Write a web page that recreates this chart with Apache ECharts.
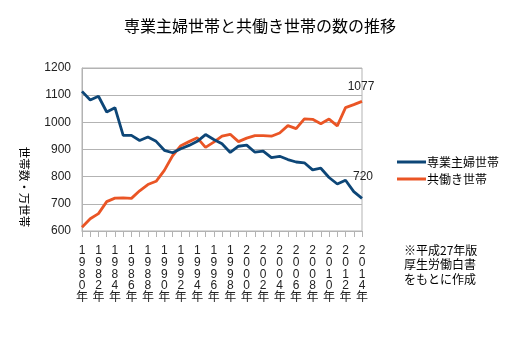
<!DOCTYPE html>
<html>
<head>
<meta charset="utf-8">
<script src="https://cdn.jsdelivr.net/npm/echarts@6/dist/echarts.min.js"></script>
<style>
  html, body { margin: 0; padding: 0; background: #fff; }
  #chart { width: 520px; height: 339px; }
</style>
</head>
<body>
<div id="chart"></div>
<script>
// 1980年〜2014年の世帯数(万世帯)
var years = [];
for (var y = 1980; y <= 2014; y++) years.push(String(y));

var housewifeName = '専業主婦世帯';
var housewife = [1114, 1082, 1096, 1038, 1054, 952, 952, 933, 946, 930,
                 897, 888, 903, 915, 930, 955, 937, 921, 889, 912,
                 916, 890, 894, 870, 875, 863, 854, 851, 825, 831,
                 797, 773, 787, 745, 720];

var dualName = '共働き世帯';
var dual = [614, 645, 664, 708, 721, 722, 720, 748, 771, 783,
            823, 877, 914, 929, 943, 908, 927, 949, 956, 929,
            942, 951, 951, 949, 961, 988, 977, 1013, 1011, 995,
            1012, 987, 1054, 1065, 1077];

var yTicks = [600, 700, 800, 900, 1000, 1100, 1200];

var titleText = '専業主婦世帯と共働き世帯の数の推移';
var axisNameText = '世帯数・万世帯';
var sourceNote = '※平成27年版\n厚生労働白書\nをもとに作成';

var FONT = '"Liberation Sans", "Noto Sans CJK JP", sans-serif';
var JP = '"Noto Sans CJK JP", sans-serif';
var BLUE = '#0d4677';
var RED = '#ea5525';

// label only the final point of each series
function withEndLabel(values, dist, dx) {
  return values.map(function (v, i) {
    if (i !== values.length - 1) return v;
    return {
      value: v,
      label: {
        show: true, position: 'top', distance: dist, offset: [dx, 0],
        color: '#222', fontSize: 12, fontFamily: FONT,
        formatter: '{c}'
      }
    };
  });
}

var chart = echarts.init(document.getElementById('chart'), null, { renderer: 'canvas' });

chart.setOption({
  backgroundColor: '#ffffff',
  animation: false,
  title: {
    text: titleText,
    left: 'center',
    top: 13,
    textStyle: { fontFamily: JP, fontSize: 16, fontWeight: 'normal', color: '#000' }
  },
  legend: {
    orient: 'vertical',
    left: 392,
    top: 151,
    itemWidth: 29,
    itemHeight: 3,
    itemGap: 5,
    icon: 'rect',
    textStyle: { fontFamily: JP, fontSize: 12, color: '#000', padding: [0, 0, 0, -4] },
    data: [housewifeName, dualName]
  },
  grid: {
    left: 82, top: 68, width: 280, height: 163,
    show: true, borderColor: '#b3b3b3', borderWidth: 1,
    containLabel: false
  },
  xAxis: {
    type: 'category',
    data: years,
    boundaryGap: false,
    axisLine: { lineStyle: { color: '#b3b3b3' } },
    axisTick: { show: true, interval: 0, length: 6, lineStyle: { color: '#b3b3b3' } },
    axisLabel: {
      interval: 1,
      margin: 14,
      fontFamily: FONT,
      fontSize: 12,
      lineHeight: 11.7,
      color: '#222',
      formatter: function (v) { return v.split('').join('\n') + '\n年'; }
    },
    splitLine: { show: false }
  },
  yAxis: {
    type: 'value',
    min: yTicks[0],
    max: yTicks[yTicks.length - 1],
    interval: 100,
    axisLine: { show: true, lineStyle: { color: '#b3b3b3' } },
    axisTick: { show: false },
    axisLabel: {
      fontFamily: FONT, fontSize: 12, color: '#222', margin: 11,
      formatter: function (v) { return String(v); }
    },
    splitLine: { lineStyle: { color: '#b3b3b3', width: 1 } }
  },
  graphic: [
    {
      type: 'text',
      x: 24, y: 187,
      rotation: -Math.PI / 2,
      style: {
        text: axisNameText,
        fontFamily: JP,
        fontSize: 11.5,
        fill: '#000',
        textAlign: 'center',
        textVerticalAlign: 'middle'
      }
    },
    {
      type: 'text',
      left: 404, top: 243,
      style: {
        text: sourceNote,
        fontFamily: JP,
        fontSize: 12,
        lineHeight: 14.5,
        fill: '#000'
      }
    }
  ],
  series: [
    {
      name: housewifeName,
      type: 'line',
      data: withEndLabel(housewife, 16, 1),
      showSymbol: true,
      symbol: 'circle',
      symbolSize: 0,
      color: BLUE,
      lineStyle: { color: BLUE, width: 2.8 },
      z: 3
    },
    {
      name: dualName,
      type: 'line',
      data: withEndLabel(dual, 9, -1),
      showSymbol: true,
      symbol: 'circle',
      symbolSize: 0,
      color: RED,
      lineStyle: { color: RED, width: 2.8 },
      z: 2
    }
  ]
});
</script>
</body>
</html>
